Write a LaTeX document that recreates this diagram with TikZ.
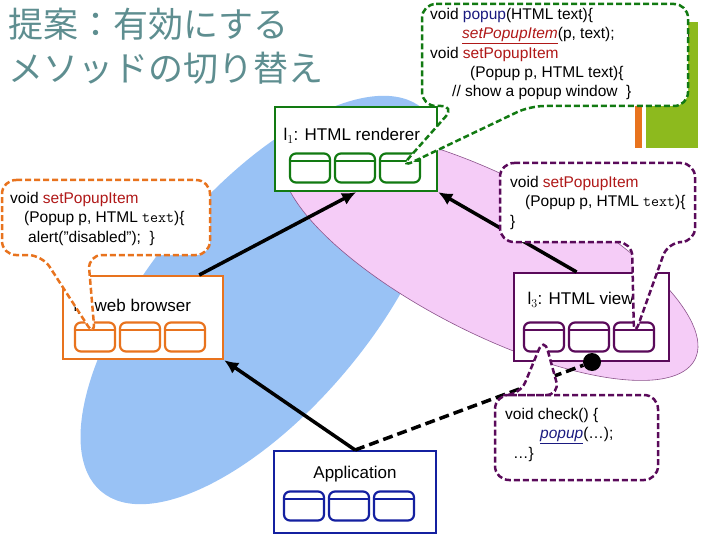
\documentclass[tikz,border=0pt]{standalone}
\usepackage{fontspec}
\setmainfont{Liberation Sans}
\newfontfamily\cjk{Noto Sans CJK JP}
\usetikzlibrary{calc,positioning,arrows.meta}
\definecolor{bgreen}{HTML}{127A12}
\definecolor{borange}{HTML}{E8731E}
\definecolor{bpurple}{HTML}{5A0A5A}
\definecolor{bblue}{HTML}{1420A0}
\definecolor{skyblue}{HTML}{99C2F5}
\definecolor{lpink}{HTML}{F5CCF7}
\definecolor{titlec}{HTML}{5E8E90}
\definecolor{barg}{HTML}{8DBA1E}
\definecolor{codered}{HTML}{B01818}
\definecolor{navy}{HTML}{1A1A80}
\tikzset{
  box/.style={draw,line width=2.2pt,fill=white,rectangle,anchor=north west},
  cell/.style={draw,line width=2.2pt,rectangle,rounded corners=6pt,minimum width=40pt,minimum height=29pt,inner sep=0pt},
  call/.style={line width=2.5pt,dash pattern=on 6pt off 3pt,fill=white,rounded corners=14pt},
  code/.style={font=\fontsize{15.5}{19.3}\selectfont,align=left,anchor=north west,inner sep=0pt},
  lbl/.style={font=\fontsize{17}{17}\selectfont},
  link/.style={line width=3.5pt,-{Latex[length=14pt,width=13pt]}}
}
\newcommand{\cells}[4]{% prefix, colour, x, y
  \foreach \k in {0,1,2}
  {
    \node[cell,draw=#2] (#1\k) at (#3+45*\k,#4) {};
    \draw[#2,line width=2pt] ([yshift=-9pt]#1\k.north west) -- ([yshift=-9pt]#1\k.north east);
  }
}
\begin{document}
\begin{tikzpicture}[x=1pt,y=-1pt]
  \useasboundingbox (0,0) rectangle (720,540);

  % title and side bar
  \node[text=titlec,font=\cjk\fontsize{35}{44}\selectfont,align=left,anchor=north west,inner sep=0pt] (title) at (8,8) {提案：有効にする\\メソッドの切り替え};
  \fill[barg] (646,22) rectangle (698,148);
  \fill[borange] (635,100) rectangle (642,148);
  \node[font=\fontsize{13}{13}\selectfont] (pageno) at (686,34) {6};

  % regions
  \fill[skyblue,rotate around={50:(262,300)}] (262,300) ellipse [x radius=250,y radius=110];
  \filldraw[fill=lpink,draw=bpurple!70,line width=0.6pt,rotate around={-27:(490,255)}] (490,255) ellipse [x radius=230,y radius=78];

  % components
  \node[box,draw=bgreen,minimum width=162pt,minimum height=84pt] (rend) at (274,106) {};
  \node[lbl,anchor=west] (rendl) at (280,136) {l$_1$: HTML renderer};
  \cells{rc}{bgreen}{310}{168}

  \node[box,draw=borange,minimum width=160pt,minimum height=83pt] (web) at (62,275) {};
  \node[lbl,anchor=west] (webl) at (70,307) {l$_2$: web browser};
  \cells{wc}{borange}{95}{337}

  \node[box,draw=bpurple,minimum width=155pt,minimum height=88pt] (view) at (513,272) {};
  \node[lbl,anchor=west] (viewl) at (524,300) {l$_3$: HTML view};
  \cells{vc}{bpurple}{544}{337}

  \node[box,draw=bblue,minimum width=162pt,minimum height=82pt] (app) at (273,450) {};
  \node[lbl] (appl) at (355,474) {Application};
  \cells{ac}{bblue}{304}{506}

  % dependencies
  \node[circle,fill=black,inner sep=0pt,minimum size=18pt] (dot) at (592,362) {};
  \draw[link] (app.north) -- (web.south east);
  \draw[link] ([xshift=-25pt]web.north east) -- (rend.south);
  \draw[link] ([xshift=-15pt]view.north) -- (rend.south east);
  \draw[line width=3.5pt,dash pattern=on 10pt off 5pt] (app.north) -- (dot);

  % callouts
  \draw[call,draw=bgreen] (422,4) -- (688,4) -- (688,106) -- (530,106) -- (rc2.center) -- (455,106) -- (422,106) -- cycle;
  \node[code] (c1) at (430,8) {void \textcolor{navy}{popup}(HTML text)\{\\
    \hspace*{32pt}\textcolor{codered}{\underline{\textit{setPopupItem}}}(p, text);\\
    void \textcolor{codered}{setPopupItem}\\
    \hspace*{40pt}(Popup p, HTML text)\{\\
    \hspace*{22pt}// show a popup window~~\}};

  \draw[call,draw=bpurple] (500,163) -- (695,163) -- (695,242) -- (668,242) -- (vc2.center) -- (632,242) -- (500,242) -- cycle;
  \node[code] (c2) at (510,176) {void \textcolor{codered}{setPopupItem}\\
    \hspace*{15pt}(Popup p, HTML \texttt{text})\{\\
    \}};

  \draw[call,draw=borange] (2,180) -- (210,180) -- (210,255) -- (88,255) -- (wc0.center) -- (42,255) -- (2,255) -- cycle;
  \node[code] (c3) at (10,192) {void \textcolor{codered}{setPopupItem}\\
    \hspace*{14pt}(Popup p, HTML \texttt{text})\{\\
    \hspace*{18pt}alert("disabled");~~\}};

  \draw[call,draw=bpurple] (495,395) -- (658,395) -- (658,480) -- (495,480) -- (495,395) -- (520,395) -- (vc0.center) -- (560,395) -- cycle;
  \node[code] (c4) at (505,408) {void check() \{\\
    \hspace*{35pt}\textcolor{navy}{\underline{\textit{popup}}}(\dots);\\
    \hspace*{8pt}\dots\}};
\end{tikzpicture}
\end{document}
